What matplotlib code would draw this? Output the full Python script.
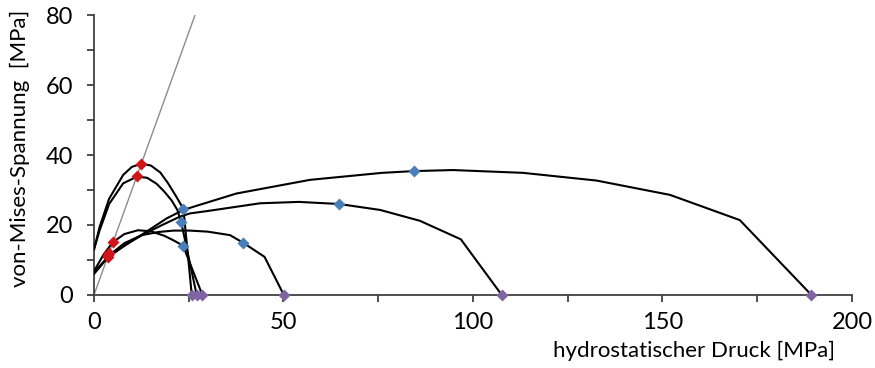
import matplotlib
matplotlib.use("Agg")
import matplotlib.pyplot as plt
from matplotlib.ticker import MultipleLocator

plt.rcParams['font.family'] = ['Lato', 'DejaVu Sans']

# Curves (hydrostatic pressure [MPa], von Mises stress [MPa])
c_tall1_x = [0, 1.5, 4, 7.7, 10, 12.5, 15, 17.5, 19.5, 21.5, 23.6, 25.8]
c_tall1_y = [13, 19.5, 27.5, 34.3, 36.6, 37.5, 37.0, 35.0, 32.0, 28.5, 24.6, 0]

c_tall2_x = [0, 1.5, 4, 7.7, 11.3, 14, 16.5, 18.6, 20.5, 22, 23.0, 27.1]
c_tall2_y = [13, 18.5, 26, 31.9, 33.8, 33.5, 31.8, 29.5, 27.0, 24.3, 20.9, 0]

c_short_x = [0, 2.5, 4.9, 8, 11.6, 15, 18.6, 21, 23.5, 28.6]
c_short_y = [6.8, 11.5, 15.0, 17.4, 18.5, 18.2, 16.9, 15.6, 14.1, 0]

c_50_x = [0, 4, 8, 12.6, 17, 21, 25.3, 30, 35.9, 39.4, 45, 50.1]
c_50_y = [6.2, 11.3, 14.8, 17.1, 18.0, 18.4, 18.4, 18.1, 17.1, 14.9, 10.9, 0]

c_107_x = [0, 3.9, 8, 13, 18, 22.7, 25.3, 30, 43.8, 54, 64.7, 75.5, 86, 96.8, 107.6]
c_107_y = [6.5, 11.0, 14.2, 17.3, 20.0, 22.4, 23.3, 24.0, 26.2, 26.6, 26.0, 24.3, 21.2, 15.9, 0]

c_189_x = [0, 3.7, 8, 13, 19.2, 23.6, 27.4, 37.6, 57, 76, 84.4, 94.7, 113.2, 132.6, 152, 170.4, 189.3]
c_189_y = [6.0, 10.8, 14.0, 17.5, 21.9, 24.3, 25.6, 29.0, 32.9, 34.9, 35.4, 35.7, 34.9, 32.7, 28.6, 21.4, 0]

# Reference line (uniaxial tension: q = 3 p)
ref_x = [0, 30]
ref_y = [0, 90]

# Marker points
red_y = [37.5, 34.0, 15.0, 12.0, 11.3, 10.8]
red_x = [v / 3 for v in red_y]
blue_x = [23.6, 23.0, 23.5, 39.4, 64.7, 84.4]
blue_y = [24.6, 20.9, 14.1, 14.9, 26.0, 35.4]
purple_x = [25.8, 27.1, 28.6, 50.1, 107.6, 189.3]
purple_y = [0, 0, 0, 0, 0, 0]

fig = plt.figure(figsize=(8.75, 3.68), dpi=100)
ax = fig.add_axes([0.1074, 0.1984, 0.8663, 0.7608])

ax.plot(ref_x, ref_y, color='#8c8c8c', lw=1.0, zorder=2)
for xs, ys in [(c_tall1_x, c_tall1_y), (c_tall2_x, c_tall2_y), (c_short_x, c_short_y),
               (c_50_x, c_50_y), (c_107_x, c_107_y), (c_189_x, c_189_y)]:
    ax.plot(xs, ys, color='black', lw=1.5, zorder=3, solid_joinstyle='round')

ms = 6.5
ax.plot(red_x, red_y, 'D', color='#d0161b', ms=ms, mec='none', zorder=4, clip_on=False)
ax.plot(blue_x, blue_y, 'D', color='#4a7ebb', ms=ms, mec='none', zorder=4, clip_on=False)
ax.plot(purple_x, purple_y, 'D', color='#8064a2', ms=ms, mec='none', zorder=4, clip_on=False)

ax.set_xlim(0, 200)
ax.set_ylim(0, 80)
ax.xaxis.set_major_locator(MultipleLocator(50))
ax.xaxis.set_minor_locator(MultipleLocator(25))
ax.yaxis.set_major_locator(MultipleLocator(20))
ax.yaxis.set_minor_locator(MultipleLocator(10))

for s in ['top', 'right']:
    ax.spines[s].set_visible(False)
for s in ['left', 'bottom']:
    ax.spines[s].set_color('#404040')
    ax.spines[s].set_linewidth(1.3)

ax.tick_params(which='both', direction='out', length=5, width=1.3, color='#404040')
ax.tick_params(axis='x', which='major', labelsize=17, pad=7)
ax.tick_params(axis='y', which='major', labelsize=17, pad=10)

ax.set_xlabel('hydrostatischer Druck [MPa]', fontsize=16, loc='right')
ax.set_ylabel('von-Mises-Spannung  [MPa]', fontsize=16, loc='top')
ax.xaxis.set_label_coords(0.9776, -0.165)
ax.yaxis.set_label_coords(-0.084, 1.018)

fig.savefig('out.png', dpi=100)
